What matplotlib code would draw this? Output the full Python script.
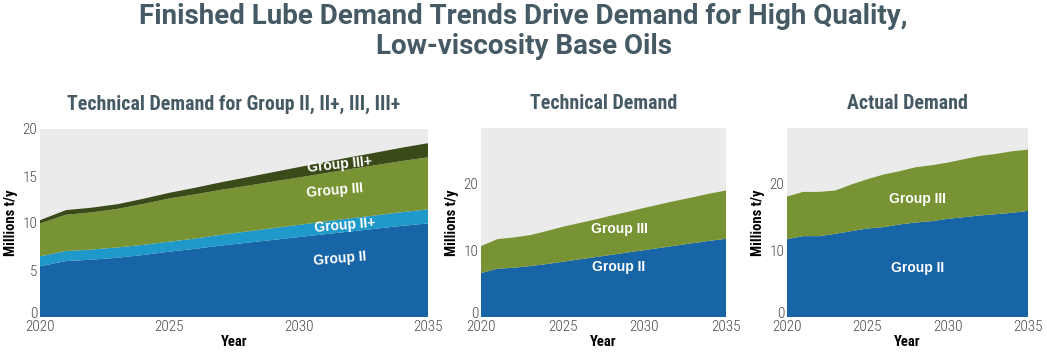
import matplotlib
matplotlib.use("Agg")
import matplotlib.pyplot as plt
import matplotlib.transforms as mtransforms
from matplotlib import font_manager

# Years and series (millions t/y)
years = list(range(2020, 2036))

# Panel 1: technical demand by group (layer thicknesses)
tech_g2 = [5.4, 5.95, 6.1, 6.3, 6.6, 6.95, 7.25, 7.6, 7.9, 8.2, 8.5, 8.8, 9.1, 9.4, 9.7, 9.95]
tech_g2p = [1.05, 1.07, 1.08, 1.1, 1.08, 1.06, 1.1, 1.15, 1.2, 1.25, 1.3, 1.35, 1.4, 1.42, 1.46, 1.5]
tech_g3 = [3.5, 3.85, 3.95, 4.1, 4.35, 4.6, 4.7, 4.78, 4.86, 4.95, 5.04, 5.14, 5.24, 5.34, 5.44, 5.54]
tech_g3p = [0.35, 0.5, 0.5, 0.5, 0.55, 0.6, 0.7, 0.8, 0.9, 1.0, 1.1, 1.18, 1.26, 1.34, 1.42, 1.5]

# Panel 2: technical demand, group II and group III
techsum_g2 = [6.6, 7.25, 7.4, 7.65, 7.95, 8.3, 8.65, 9.0, 9.35, 9.7, 10.05, 10.4, 10.75, 11.1, 11.45, 11.75]
techsum_g3 = [4.05, 4.45, 4.55, 4.65, 4.95, 5.25, 5.45, 5.65, 5.9, 6.1, 6.35, 6.55, 6.75, 6.9, 7.1, 7.25]

# Panel 3: actual demand
act_g2 = [11.7, 12.15, 12.15, 12.5, 12.9, 13.3, 13.5, 13.9, 14.2, 14.4, 14.75, 15.0, 15.25, 15.45, 15.65, 15.95]
act_g3 = [6.4, 6.65, 6.65, 6.5, 7.0, 7.4, 7.9, 8.0, 8.3, 8.4, 8.45, 8.7, 8.95, 9.05, 9.25, 9.2]

# Colours
C_G2 = "#1764a6"
C_G2P = "#1e99c9"
C_G3 = "#789334"
C_G3P = "#3b4a19"
C_BG = "#ebebeb"
C_TITLE = "#455a64"
C_TICK = "#4a4a4a"

available = {f.name for f in font_manager.fontManager.ttflist}
narrow = next((f for f in ["Roboto Condensed", "Liberation Sans Narrow", "Roboto"] if f in available), "DejaVu Sans")
plt.rcParams["font.family"] = ["Roboto", "DejaVu Sans"]

fig = plt.figure(figsize=(10.47, 3.58), dpi=100)

fig.text(0.5, 0.992, "Finished Lube Demand Trends Drive Demand for High Quality,\nLow-viscosity Base Oils",
         ha="center", va="top", fontsize=20, fontweight="bold", color=C_TITLE, linespacing=1.13)

H = 358.0
W = 1047.0


def make_axes(x0, x1, y_top, y_bot=317):
    return fig.add_axes([x0 / W, 1 - y_bot / H, (x1 - x0) / W, (y_bot - y_top) / H])


def style(ax, ymax, yticks, subtitle):
    ax.set_facecolor(C_BG)
    ax.set_xlim(2020, 2035)
    ax.set_ylim(0, ymax)
    ax.set_xticks([2020, 2025, 2030, 2035])
    ax.set_yticks(yticks)
    for s in ax.spines.values():
        s.set_visible(False)
    ax.tick_params(axis="x", length=0, pad=2, labelsize=11, labelcolor=C_TICK)
    ax.tick_params(axis="y", length=0, pad=2, labelsize=11, labelcolor=C_TICK)
    for lab in ax.get_xticklabels() + ax.get_yticklabels():
        lab.set_family(narrow)
        lab.set_fontweight("light")
    # lift the zero label a little, as in the original
    zero = ax.get_yticklabels()[0]
    zero.set_transform(zero.get_transform() + mtransforms.ScaledTranslation(0, 3 / 72, fig.dpi_scale_trans))
    ax.set_xlabel("Year", fontsize=10.5, fontweight="bold", family=narrow, labelpad=1)
    ax.set_ylabel("Millions t/y", fontsize=10.5, fontweight="bold", family=narrow, labelpad=3)
    ax.set_title(subtitle, fontsize=14.3, fontweight="bold", family=narrow, color=C_TITLE, pad=14)


label_kw = dict(color="white", fontsize=10, fontweight="bold", ha="center", va="center",
                family=["Liberation Sans", "DejaVu Sans"])

# Panel 1
ax1 = make_axes(40, 428, 129)
ax1.stackplot(years, tech_g2, tech_g2p, tech_g3, tech_g3p,
              colors=[C_G2, C_G2P, C_G3, C_G3P], linewidth=0)
style(ax1, 20, [0, 5, 10, 15, 20], "Technical Demand for Group II, II+, III, III+")
ax1.text(2031.6, 6.2, "Group II", rotation=5, **label_kw)
ax1.text(2031.8, 9.75, "Group II+", rotation=5, **label_kw)
ax1.text(2031.4, 13.5, "Group III", rotation=5, **label_kw)
ax1.text(2031.6, 16.25, "Group III+", rotation=6, **label_kw)

# Panel 2
ax2 = make_axes(481, 726, 128)
ax2.stackplot(years, techsum_g2, techsum_g3, colors=[C_G2, C_G3], linewidth=0)
style(ax2, 28.4, [0, 10, 20], "Technical Demand")
ax2.text(2028.45, 7.5, "Group II", **label_kw)
ax2.text(2028.45, 13.2, "Group III", **label_kw)

# Panel 3
ax3 = make_axes(787, 1028, 128)
ax3.stackplot(years, act_g2, act_g3, colors=[C_G2, C_G3], linewidth=0)
style(ax3, 28.4, [0, 10, 20], "Actual Demand")
ax3.text(2028.1, 7.4, "Group II", **label_kw)
ax3.text(2028.1, 17.7, "Group III", **label_kw)

fig.savefig("out.png", dpi=100)
